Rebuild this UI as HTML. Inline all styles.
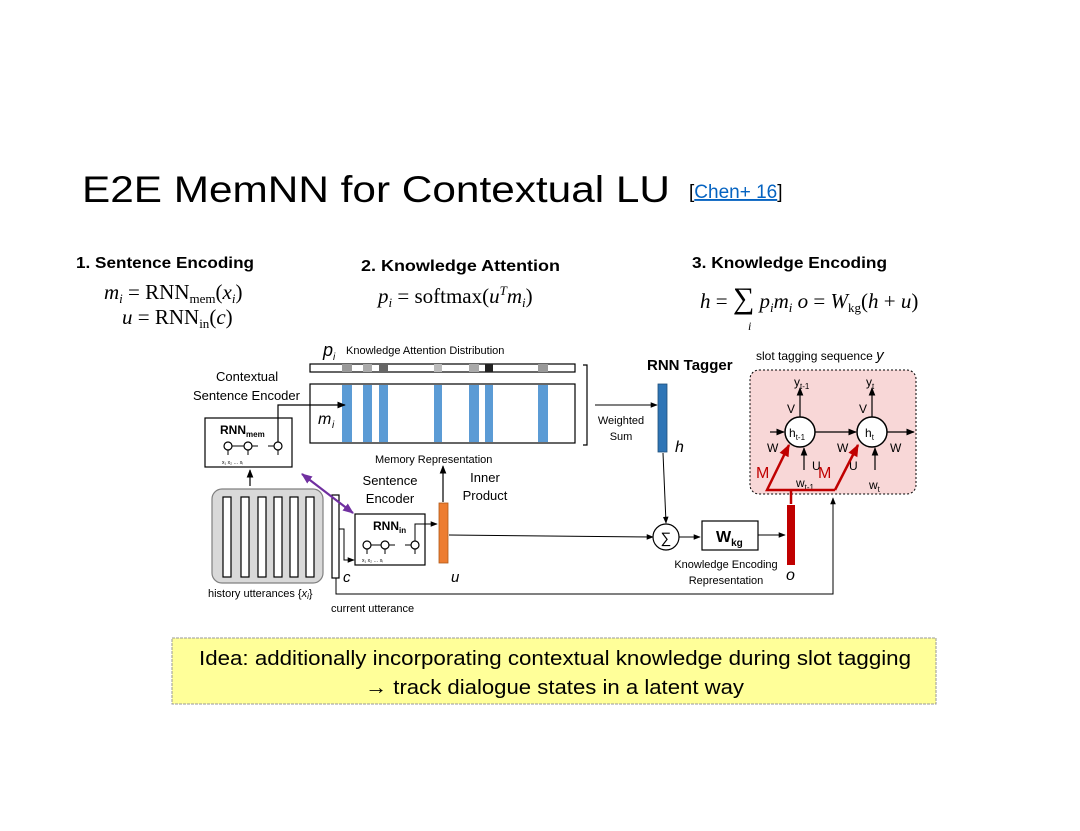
<!DOCTYPE html>
<html><head><meta charset="utf-8"><style>
html,body{margin:0;padding:0;background:#fff;}
svg{display:block;font-family:"Liberation Sans",sans-serif;}
.s{font-family:"Liberation Serif",serif;}
</style></head><body>
<svg width="1080" height="831" viewBox="0 0 1080 831" xmlns="http://www.w3.org/2000/svg">
<defs>
<marker id="a" viewBox="0 0 10 10" refX="9" refY="5" markerWidth="7" markerHeight="7" orient="auto"><path d="M0,1 L10,5 L0,9 z" fill="#000"/></marker>
<marker id="ar" viewBox="0 0 10 10" refX="9" refY="5" markerWidth="5" markerHeight="5" orient="auto"><path d="M0,1 L10,5 L0,9 z" fill="#c00000"/></marker>
<marker id="ap" viewBox="0 0 10 10" refX="9" refY="5" markerWidth="5" markerHeight="5" orient="auto-start-reverse"><path d="M0,1 L10,5 L0,9 z" fill="#7030a0"/></marker>
</defs>
<text x="82" y="202" font-size="37" textLength="588" lengthAdjust="spacingAndGlyphs">E2E MemNN for Contextual LU</text>
<text x="689" y="198" font-size="19">[<tspan fill="#0563c1" text-decoration="underline">Chen+ 16</tspan>]</text>

<g font-weight="bold" font-size="16">
<text x="76" y="268" textLength="178" lengthAdjust="spacingAndGlyphs">1. Sentence Encoding</text>
<text x="361" y="271" textLength="199" lengthAdjust="spacingAndGlyphs">2. Knowledge Attention</text>
<text x="692" y="268" textLength="195" lengthAdjust="spacingAndGlyphs">3. Knowledge Encoding</text>
</g>
<g class="s" font-size="21">
<text x="104" y="299"><tspan font-style="italic">m</tspan><tspan font-size="13" font-style="italic" dy="4">i</tspan><tspan dy="-4"> = RNN</tspan><tspan font-size="13" dy="4">mem</tspan><tspan dy="-4">(</tspan><tspan font-style="italic">x</tspan><tspan font-size="13" font-style="italic" dy="4">i</tspan><tspan dy="-4">)</tspan></text>
<text x="122" y="324"><tspan font-style="italic">u</tspan> = RNN<tspan font-size="13" dy="4">in</tspan><tspan dy="-4">(</tspan><tspan font-style="italic">c</tspan>)</text>
<text x="378" y="303"><tspan font-style="italic">p</tspan><tspan font-size="13" font-style="italic" dy="4">i</tspan><tspan dy="-4"> = softmax(</tspan><tspan font-style="italic">u</tspan><tspan font-size="13" font-style="italic" dy="-8">T</tspan><tspan font-style="italic" dy="8">m</tspan><tspan font-size="13" font-style="italic" dy="4">i</tspan><tspan dy="-4">)</tspan></text>
<text x="700" y="308"><tspan font-style="italic">h</tspan> = <tspan font-size="30">∑</tspan><tspan font-style="italic"> p</tspan><tspan font-size="13" font-style="italic" dy="4">i</tspan><tspan font-style="italic" dy="-4">m</tspan><tspan font-size="13" font-style="italic" dy="4">i</tspan><tspan dy="-4" font-style="italic">   o</tspan> = <tspan font-style="italic">W</tspan><tspan font-size="13" dy="4">kg</tspan><tspan dy="-4">(</tspan><tspan font-style="italic">h</tspan> + <tspan font-style="italic">u</tspan>)</text>
<text x="748" y="330" font-size="12" font-style="italic">i</text>
</g>

<text x="323" y="356" font-size="18" font-style="italic">p</text><text x="333" y="360" font-size="10" font-style="italic">i</text>
<text x="346" y="354" font-size="11">Knowledge Attention Distribution</text>
<rect x="310" y="364" width="265" height="8" fill="#fff" stroke="#000" stroke-width="1.2"/>
<g>
<rect x="342" y="364" width="10" height="8" fill="#999"/>
<rect x="363" y="364" width="9" height="8" fill="#aaa"/>
<rect x="379" y="364" width="9" height="8" fill="#666"/>
<rect x="434" y="364" width="8" height="8" fill="#bbb"/>
<rect x="469" y="364" width="10" height="8" fill="#aaa"/>
<rect x="485" y="364" width="8" height="8" fill="#222"/>
<rect x="538" y="364" width="10" height="8" fill="#999"/>
</g>
<rect x="310" y="384" width="265" height="59" fill="#fff" stroke="#000" stroke-width="1.2"/>
<g fill="#5b9bd5">
<rect x="342" y="385" width="10" height="57"/><rect x="363" y="385" width="9" height="57"/><rect x="379" y="385" width="9" height="57"/>
<rect x="434" y="385" width="8" height="57"/><rect x="469" y="385" width="10" height="57"/><rect x="485" y="385" width="8" height="57"/><rect x="538" y="385" width="10" height="57"/>
</g>
<text x="318" y="424" font-size="16" font-style="italic">m</text><text x="332" y="428" font-size="10" font-style="italic">i</text>
<text x="375" y="463" font-size="11">Memory Representation</text>
<path d="M583,365 H587 V445 H583" fill="none" stroke="#000" stroke-width="1.2"/>
<line x1="595" y1="405" x2="657" y2="405" stroke="#000" stroke-width="1" marker-end="url(#a)"/>
<text x="621" y="424" font-size="11" text-anchor="middle">Weighted</text>
<text x="621" y="440" font-size="11" text-anchor="middle">Sum</text>

<text x="216" y="381" font-size="13">Contextual</text>
<text x="193" y="400" font-size="13">Sentence Encoder</text>
<rect x="205" y="418" width="87" height="49" fill="#fff" stroke="#000" stroke-width="1.2"/>
<text x="220" y="434" font-size="12" font-weight="bold">RNN<tspan font-size="8" dy="3">mem</tspan></text>
<g fill="#fff" stroke="#000" stroke-width="1.2">
<circle cx="228" cy="446" r="4"/><circle cx="248" cy="446" r="4"/><circle cx="278" cy="446" r="4"/>
</g>
<g stroke="#000" stroke-width="1"><line x1="232" y1="446" x2="244" y2="446"/><line x1="252" y1="446" x2="258" y2="446"/><line x1="268" y1="446" x2="274" y2="446"/><line x1="228" y1="455" x2="228" y2="450"/><line x1="248" y1="455" x2="248" y2="450"/><line x1="278" y1="455" x2="278" y2="450"/></g>
<text x="222" y="464" font-size="5">x₁  x₂  … xᵢ</text>
<path d="M278,442 V405 H345" fill="none" stroke="#000" stroke-width="1.2" marker-end="url(#a)"/>
<line x1="250" y1="486" x2="250" y2="470" stroke="#000" stroke-width="1.2" marker-end="url(#a)"/>
<rect x="212" y="489" width="111" height="94" rx="10" fill="#d9d9d9" stroke="#808080" stroke-width="1.2"/>
<g fill="#fff" stroke="#000" stroke-width="1.2">
<rect x="223" y="497" width="8" height="80"/><rect x="241" y="497" width="8" height="80"/><rect x="258" y="497" width="8" height="80"/><rect x="274" y="497" width="8" height="80"/><rect x="290" y="497" width="8" height="80"/><rect x="306" y="497" width="8" height="80"/>
</g>
<text x="208" y="597" font-size="11">history utterances {<tspan font-style="italic">x</tspan><tspan font-size="8" font-style="italic" dy="2">i</tspan><tspan dy="-2">}</tspan></text>
<rect x="332" y="495" width="7" height="83" fill="#fff" stroke="#000" stroke-width="1.2"/>
<text x="343" y="582" font-size="15" font-style="italic">c</text>
<text x="331" y="612" font-size="11">current utterance</text>
<line x1="302" y1="474" x2="353" y2="513" stroke="#7030a0" stroke-width="2.2" marker-start="url(#ap)" marker-end="url(#ap)"/>
<text x="390" y="485" font-size="13" text-anchor="middle">Sentence</text>
<text x="390" y="503" font-size="13" text-anchor="middle">Encoder</text>
<text x="485" y="482" font-size="13" text-anchor="middle">Inner</text>
<text x="485" y="500" font-size="13" text-anchor="middle">Product</text>
<path d="M339,529 H344 V560 H354" fill="none" stroke="#000" stroke-width="1" marker-end="url(#a)"/>
<rect x="355" y="514" width="70" height="51" fill="#fff" stroke="#000" stroke-width="1.2"/>
<text x="373" y="530" font-size="12" font-weight="bold">RNN<tspan font-size="8" dy="3">in</tspan></text>
<g fill="#fff" stroke="#000" stroke-width="1.2"><circle cx="367" cy="545" r="4"/><circle cx="385" cy="545" r="4"/><circle cx="415" cy="545" r="4"/></g>
<g stroke="#000" stroke-width="1"><line x1="371" y1="545" x2="381" y2="545"/><line x1="389" y1="545" x2="395" y2="545"/><line x1="405" y1="545" x2="411" y2="545"/><line x1="367" y1="554" x2="367" y2="549"/><line x1="385" y1="554" x2="385" y2="549"/><line x1="415" y1="554" x2="415" y2="549"/></g>
<text x="362" y="562" font-size="5">x₁  x₂  … xᵢ</text>
<path d="M415,541 V524 H437" fill="none" stroke="#000" stroke-width="1" marker-end="url(#a)"/>
<rect x="439" y="503" width="9" height="60" fill="#ed7d31" stroke="#b05a1a" stroke-width="0.8"/>
<text x="451" y="582" font-size="15" font-style="italic">u</text>
<line x1="443" y1="502" x2="443" y2="466" stroke="#000" stroke-width="1.2" marker-end="url(#a)"/>
<line x1="449" y1="535" x2="653" y2="537" stroke="#000" stroke-width="1" marker-end="url(#a)"/>
<path d="M336,578 V594 H833 V498" fill="none" stroke="#000" stroke-width="1" marker-end="url(#a)"/>

<text x="647" y="370" font-size="15" font-weight="bold">RNN Tagger</text>
<rect x="658" y="384" width="9" height="68" fill="#2e75b6" stroke="#1f4e79" stroke-width="0.8"/>
<text x="675" y="452" font-size="16" font-style="italic">h</text>
<line x1="663" y1="453" x2="666" y2="523" stroke="#000" stroke-width="1" marker-end="url(#a)"/>
<circle cx="666" cy="537" r="13" fill="#fff" stroke="#000" stroke-width="1.2"/>
<text x="666" y="543" font-size="15" text-anchor="middle">∑</text>
<line x1="679" y1="537" x2="700" y2="537" stroke="#000" stroke-width="1" marker-end="url(#a)"/>
<rect x="702" y="521" width="56" height="29" fill="#fff" stroke="#000" stroke-width="1.2"/>
<text x="716" y="542" font-size="16" font-weight="bold">W<tspan font-size="10" dy="4">kg</tspan></text>
<line x1="758" y1="535" x2="785" y2="535" stroke="#000" stroke-width="1" marker-end="url(#a)"/>
<rect x="787" y="505" width="8" height="60" fill="#c00000"/>
<text x="786" y="580" font-size="16" font-style="italic">o</text>
<text x="726" y="568" font-size="11" text-anchor="middle">Knowledge Encoding</text>
<text x="726" y="584" font-size="11" text-anchor="middle">Representation</text>

<text x="756" y="360" font-size="12">slot tagging sequence <tspan font-style="italic" font-size="15">y</tspan></text>
<rect x="750" y="370" width="166" height="124" rx="9" fill="#f8d7d7" stroke="#000" stroke-width="1" stroke-dasharray="2,2"/>
<g stroke="#000" stroke-width="1.2" fill="none">
<line x1="800" y1="417" x2="800" y2="388" marker-end="url(#a)"/>
<line x1="872" y1="417" x2="872" y2="388" marker-end="url(#a)"/>
<line x1="770" y1="432" x2="784" y2="432" marker-end="url(#a)"/>
<line x1="815" y1="432" x2="856" y2="432" marker-end="url(#a)"/>
<line x1="887" y1="432" x2="914" y2="432" marker-end="url(#a)"/>
<line x1="804" y1="470" x2="804" y2="448" marker-end="url(#a)"/>
<line x1="875" y1="470" x2="875" y2="448" marker-end="url(#a)"/>
</g>
<circle cx="800" cy="432" r="15" fill="#fff" stroke="#000" stroke-width="1.5"/>
<circle cx="872" cy="432" r="15" fill="#fff" stroke="#000" stroke-width="1.5"/>
<text x="789" y="437" font-size="12">h<tspan font-size="8" dy="3">t-1</tspan></text>
<text x="865" y="437" font-size="12">h<tspan font-size="8" dy="3">t</tspan></text>
<g font-size="12">
<text x="794" y="386">y<tspan font-size="8" dy="3">t-1</tspan></text>
<text x="866" y="386">y<tspan font-size="8" dy="3">t</tspan></text>
<text x="787" y="413">V</text><text x="859" y="413">V</text>
<text x="767" y="452">W</text><text x="837" y="452">W</text><text x="890" y="452">W</text>
<text x="812" y="470">U</text><text x="849" y="470">U</text>
<text x="796" y="487">w<tspan font-size="8" dy="3">t-1</tspan></text>
<text x="869" y="489">w<tspan font-size="8" dy="3">t</tspan></text>
</g>
<g stroke="#c00000" stroke-width="2.5" fill="none">
<path d="M791,504 V490"/>
<path d="M835,490 H767 L789,445" marker-end="url(#ar)"/>
<path d="M835,490 L858,445" marker-end="url(#ar)"/>
</g>
<text x="756" y="478" font-size="16" fill="#c00000">M</text>
<text x="818" y="478" font-size="16" fill="#c00000">M</text>

<rect x="172" y="638" width="764" height="66" fill="#ffff99" stroke="#999" stroke-width="1" stroke-dasharray="3,1"/>
<text x="199" y="665" font-size="20" textLength="712" lengthAdjust="spacingAndGlyphs">Idea: additionally incorporating contextual knowledge during slot tagging</text>
<text x="365" y="694" font-size="20" textLength="379" lengthAdjust="spacingAndGlyphs">→ track dialogue states in a latent way</text>
</svg>
</body></html>
